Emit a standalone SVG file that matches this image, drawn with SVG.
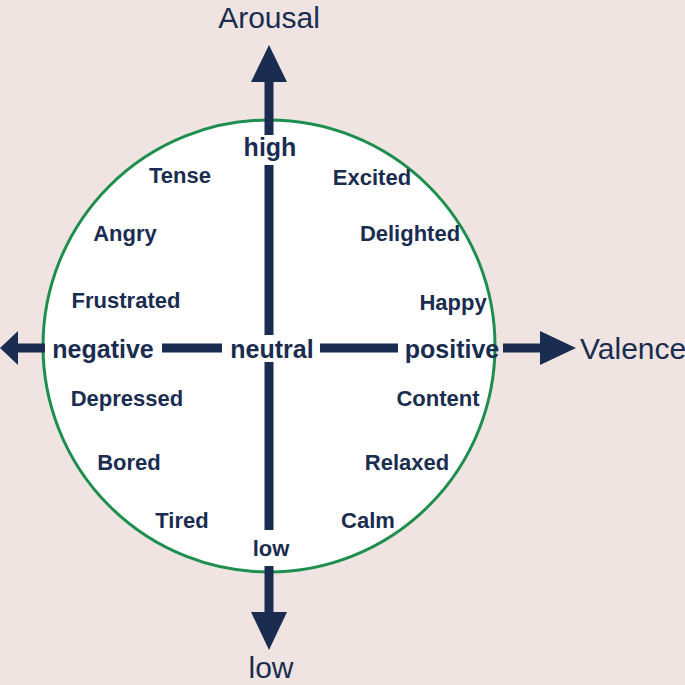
<svg xmlns="http://www.w3.org/2000/svg" width="685" height="685" viewBox="0 0 685 685">
<style>
.l{font-family:"Liberation Sans",Arial,sans-serif;font-weight:bold;font-size:22px;fill:#1a2d50;text-anchor:middle}
.a{font-size:25px}
.t{font-family:"Liberation Sans",Arial,sans-serif;font-size:30px;fill:#1a2d50}
.ax{stroke:#1a2d50;stroke-width:9;fill:none}
</style>
<rect width="685" height="685" fill="#efe4e1"/>
<g id="circle"><circle cx="269" cy="346" r="226" fill="#fff" stroke="#1e8e4e" stroke-width="3"/></g>
<g id="connectors">
<path class="ax" d="M269 80V135M269 165V335M269 362V530M269 566V615M12 348H45M162 348H222M320 348H398M503 348H542"/>
<polygon points="269,45 251,82 287,82" fill="#1a2d50"/>
<polygon points="269,650 251,612 287,612" fill="#1a2d50"/>
<polygon points="0,348 18,331 18,365" fill="#1a2d50"/>
<polygon points="576,348 540,331 540,365" fill="#1a2d50"/>
</g>
<g id="titles">
<text class="t" x="269" y="28" text-anchor="middle">Arousal</text>
<text class="t" x="271" y="678" text-anchor="middle">low</text>
<text class="t" x="580" y="359">Valence</text>
</g>
<g id="labels">
<text class="l a" x="270" y="156">high</text>
<text class="l" x="271" y="556">low</text>
<text class="l a" x="103" y="358">negative</text>
<text class="l a" x="272" y="358">neutral</text>
<text class="l a" x="452" y="358">positive</text>
<text class="l" x="180" y="183">Tense</text>
<text class="l" x="372" y="185">Excited</text>
<text class="l" x="125" y="241">Angry</text>
<text class="l" x="410" y="241">Delighted</text>
<text class="l" x="126" y="308">Frustrated</text>
<text class="l" x="453" y="310">Happy</text>
<text class="l" x="127" y="406">Depressed</text>
<text class="l" x="438" y="406">Content</text>
<text class="l" x="129" y="470">Bored</text>
<text class="l" x="407" y="470">Relaxed</text>
<text class="l" x="182" y="528">Tired</text>
<text class="l" x="368" y="528">Calm</text>
</g>
</svg>
